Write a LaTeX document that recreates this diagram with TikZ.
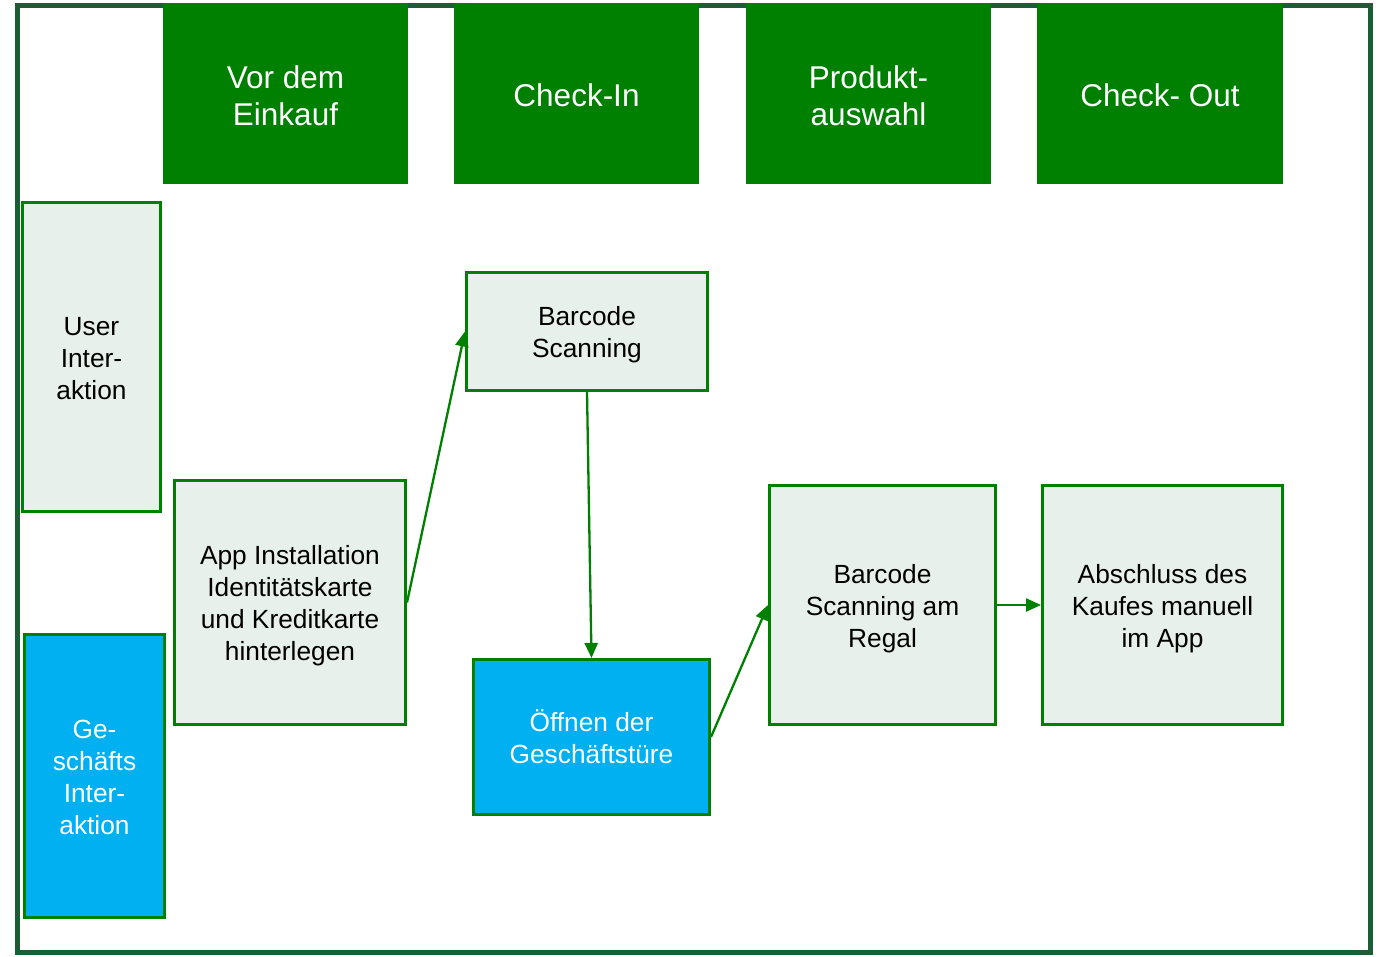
\documentclass[tikz,border=0pt]{standalone}
\usepackage{fontspec}
\setmainfont{Liberation Sans}
\usetikzlibrary{arrows.meta}
\definecolor{hdrgreen}{HTML}{008000}
\definecolor{framegreen}{HTML}{1B5E35}
\definecolor{boxfill}{HTML}{E8F0EC}
\definecolor{bluefill}{HTML}{00B0F0}
\tikzset{
  hdr/.style={fill=hdrgreen, draw=none, inner sep=0pt},
  hdrtxt/.style={text=white, align=center, inner sep=0pt,
    font=\fontsize{31.5}{37}\selectfont},
  pbox/.style={draw=hdrgreen, line width=3pt, fill=boxfill, inner sep=0pt},
  bbox/.style={pbox, fill=bluefill},
  btxt/.style={align=center, inner sep=0pt, font=\fontsize{26.3}{32}\selectfont},
  wtxt/.style={btxt, text=white},
  conn/.style={draw=hdrgreen, line width=2.3pt, -{Triangle[length=15pt,width=13pt]}},
}
\begin{document}
\begin{tikzpicture}[x=1pt,y=-1pt]
\useasboundingbox (0,0) rectangle (1378,956);
\draw[framegreen, line width=5pt] (17,5) rectangle (1370,952);
% headers
\node[hdr, minimum width=245pt, minimum height=181pt] (h1) at (285.5,93.5) {};
\node[hdr, minimum width=245pt, minimum height=181pt] (h2) at (576.5,93.5) {};
\node[hdr, minimum width=245pt, minimum height=181pt] (h3) at (868.5,93.5) {};
\node[hdr, minimum width=246pt, minimum height=181pt] (h4) at (1160,93.5) {};
\node[hdrtxt, yshift=-2pt] (h1t) at (h1.center) {Vor dem\\Einkauf};
\node[hdrtxt, yshift=-2pt] (h2t) at (h2.center) {Check-In};
\node[hdrtxt, yshift=-2pt] (h3t) at (h3.center) {Produkt-\\auswahl};
\node[hdrtxt, yshift=-2pt] (h4t) at (h4.center) {Check- Out};
% row labels
\node[pbox, minimum width=138pt, minimum height=309pt] (u) at (91.5,357) {};
\node[btxt, yshift=-2pt] (ut) at (u.center) {User\\Inter-\\aktion};
\node[bbox, minimum width=140pt, minimum height=283pt] (g) at (94.5,776) {};
\node[wtxt, yshift=-1pt] (gt) at (g.center) {Ge-\\schäfts\\Inter-\\aktion};
% process boxes
\node[pbox, minimum width=231pt, minimum height=244pt] (app) at (290,602.5) {};
\node[btxt, yshift=-3.5pt] (appt) at (app.center) {App Installation\\Identitätskarte\\und Kreditkarte\\hinterlegen};
\node[pbox, minimum width=241pt, minimum height=118pt] (bs) at (587,331.5) {};
\node[btxt, yshift=-3pt] (bst) at (bs.center) {Barcode\\Scanning};
\node[bbox, minimum width=236pt, minimum height=155pt] (of) at (591.5,737) {};
\node[wtxt] (oft) at (of.center) {Öffnen der\\Geschäftstüre};
\node[pbox, minimum width=226pt, minimum height=239pt] (rg) at (882.5,605) {};
\node[btxt, yshift=-3.5pt] (rgt) at (rg.center) {Barcode\\Scanning am\\Regal};
\node[pbox, minimum width=240pt, minimum height=239pt] (ab) at (1162.5,605) {};
\node[btxt, yshift=-3.5pt] (abt) at (ab.center) {Abschluss des\\Kaufes manuell\\im App};
% connectors
\draw[conn] (app.east) -- (bs.west);
\draw[conn] (bs.south) -- (of.north);
\draw[conn] (of.east) -- (rg.west);
\draw[conn] (rg.east) -- (ab.west);
\end{tikzpicture}
\end{document}
